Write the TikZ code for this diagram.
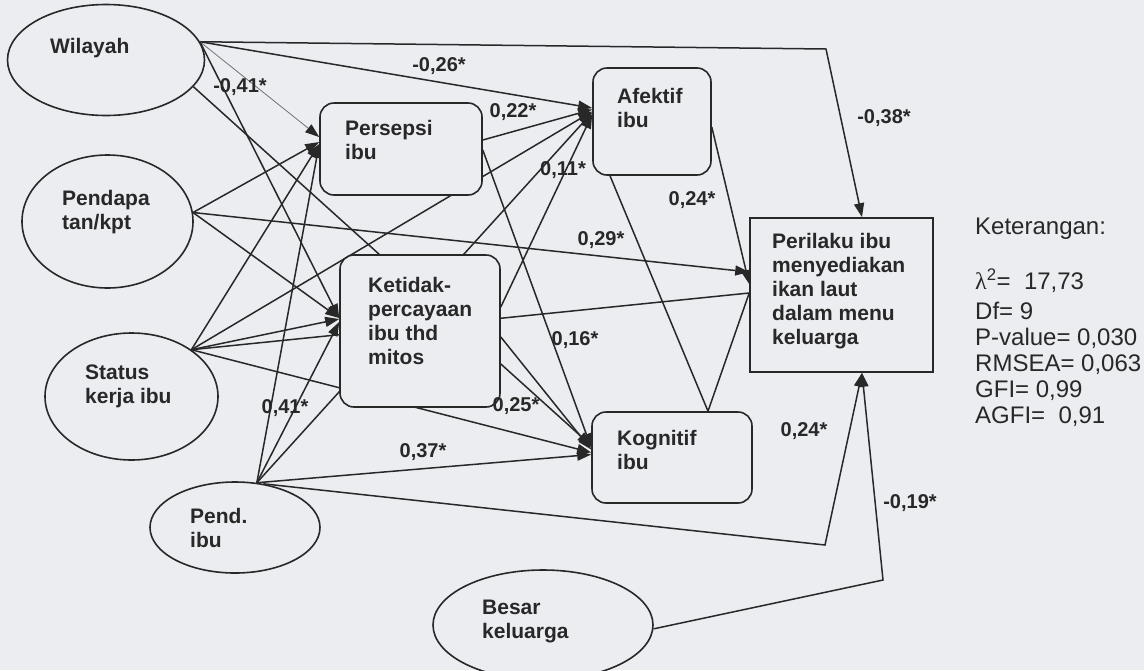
\documentclass[tikz,border=0pt]{standalone}
\usepackage{fontspec}
\setmainfont{Liberation Sans}
\newfontfamily\lamfont{Liberation Serif}
\usetikzlibrary{arrows.meta,shapes.geometric,calc}
\pgfdeclarelayer{bglayer}
\pgfdeclarelayer{edgelayer}
\pgfsetlayers{bglayer,edgelayer,main}
\definecolor{paper}{RGB}{236,237,241}
\definecolor{ink}{RGB}{40,40,40}
\begin{document}
\begin{tikzpicture}[x=1pt,y=-1pt,
  ellvar/.style={draw=ink, line width=1.6pt, fill=paper, ellipse, inner sep=0pt},
  rbox/.style={draw=ink, line width=1.6pt, fill=paper, rounded corners=14pt, inner sep=0pt, rectangle},
  sbox/.style={draw=ink, line width=1.6pt, fill=paper, inner sep=0pt, rectangle},
  lbl/.style={font=\bfseries\fontsize{21}{24}\selectfont, text=ink, align=left, anchor=north west, inner sep=0pt},
  coef/.style={font=\bfseries\fontsize{20}{24}\selectfont, text=ink, inner sep=0pt},
  arr/.style={draw=ink, line width=1.5pt, -{Triangle[length=14pt,width=10pt]}},
  lin/.style={draw=ink, line width=1.5pt},
  thinarr/.style={draw=ink!65, line width=0.8pt, -{Triangle[length=14pt,width=10pt,color=ink,fill=ink]}},
]
\useasboundingbox (0,0) rectangle (1144,670);
\begin{pgfonlayer}{bglayer}
  \fill[paper] (0,0) rectangle (1144,670);
\end{pgfonlayer}

% exogenous variables
\node[ellvar, minimum width=197pt, minimum height=111pt] (wil) at (106,60) {};
\node[ellvar, minimum width=171pt, minimum height=133pt] (pen) at (107.5,221.5) {};
\node[ellvar, minimum width=173pt, minimum height=127pt] (sta) at (131.5,396.5) {};
\node[ellvar, minimum width=170pt, minimum height=91pt] (pend) at (235,527.5) {};
\node[ellvar, minimum width=220pt, minimum height=110pt] (besar) at (543,625) {};

% mediators and outcome
\node[rbox, minimum width=162pt, minimum height=92pt] (pers) at (401,149) {};
\node[rbox, minimum width=160pt, minimum height=152pt] (ket) at (420,331) {};
\node[rbox, minimum width=118pt, minimum height=107pt] (afe) at (652,121.5) {};
\node[rbox, minimum width=160pt, minimum height=91pt] (kog) at (672,457.5) {};
\node[sbox, minimum width=183pt, minimum height=154pt] (peri) at (841.5,295) {};

% labels of nodes
\node[lbl] (wilT) at (50,38) {Wilayah};
\node[lbl] (penT) at (62,190) {Pendapa\\tan/kpt};
\node[lbl] (staT) at (85,365) {Status\\kerja ibu};
\node[lbl] (pendT) at (190,508) {Pend.\\ibu};
\node[lbl] (besarT) at (482,600) {Besar\\keluarga};
\node[lbl] (persT) at (345,120) {Persepsi\\ibu};
\node[lbl] (ketT) at (368,277) {Ketidak-\\percayaan\\ibu thd\\mitos};
\node[lbl] (afeT) at (617,88) {Afektif\\ibu};
\node[lbl] (kogT) at (617,430) {Kognitif\\ibu};
\node[lbl] (periT) at (772,233) {Perilaku ibu\\menyediakan\\ikan laut\\dalam menu\\keluarga};

% legend
\node[font=\fontsize{24}{26}\selectfont, text=ink, align=left, anchor=north west, inner sep=0pt] (leg) at (975,218)
  {Keterangan:\\[29pt]{\lamfont λ}\textsuperscript{2}=~~17,73\\[4pt]Df= 9\\P-value= 0,030\\RMSEA= 0,063\\GFI= 0,99\\AGFI=~~0,91};

% bend points
\coordinate (k1) at (826,49);
\coordinate (k2) at (825,545);
\coordinate (k3) at (883,580);

\begin{pgfonlayer}{edgelayer}
  % Wilayah
  \draw[arr] (wil.11) -- (k1) -- ([xshift=20.5pt]peri.north);
  \draw[arr] (wil.11) -- ([yshift=13.5pt]afe.west);
  \draw[thinarr] (wil.11) -- ([yshift=12pt]pers.west);
  \draw[arr] (wil.11) -- ([yshift=13pt]ket.west);
  \draw[arr] (wil.-17.5) -- ([yshift=12pt]kog.west);
  % Pendapatan
  \draw[arr] (pen.6) -- ([yshift=7pt]pers.west);
  \draw[arr] (pen.6) -- ([yshift=23pt]peri.west);
  \draw[arr] (pen.6) -- ([yshift=13pt]ket.west);
  % Status kerja
  \draw[arr] (sta.38) -- ([yshift=5pt]pers.west);
  \draw[arr] (sta.38) -- ([yshift=10pt]afe.west);
  \draw[arr] (sta.38) -- ([yshift=12pt]ket.west);
  \draw[lin] (sta.38) -- ([yshift=2pt]peri.west);
  \draw[arr] (sta.38) -- ([yshift=5pt]kog.west);
  % Pend. ibu
  \draw[arr] (pend.64) -- ([yshift=5pt]pers.west);
  \draw[arr] (pend.64) -- ([yshift=9pt]ket.west);
  \draw[arr] (pend.64) -- ([yshift=9pt]afe.west);
  \draw[arr] (pend.64) -- ([yshift=3pt]kog.west);
  \draw[arr] (pend.57) -- (k2) -- ([xshift=20.5pt]peri.south);
  % Besar keluarga
  \draw[arr] (besar.-2) -- (k3) -- ([xshift=20.5pt]peri.south);
  % Persepsi
  \draw[arr] ([yshift=9pt]pers.east) -- ([yshift=12pt]afe.west);
  \draw[arr] ([yshift=-1pt]pers.east) -- ([yshift=10pt]kog.west);
  % Ketidakpercayaan
  \draw[arr] ([yshift=24pt]ket.east) -- ([yshift=7pt]afe.west);
  \draw[arr] ([yshift=-6pt]ket.east) -- ([yshift=8pt]kog.west);
  % Afektif
  \draw[arr] ([yshift=-5.5pt]afe.east) -- ([yshift=11pt]peri.west);
  \draw[lin] ([xshift=-42pt]afe.south) -- ([xshift=36pt]kog.north);
  % Kognitif
  \draw[lin] ([xshift=36pt]kog.north) -- ([yshift=2pt]peri.west);
\end{pgfonlayer}

% coefficients
\node[coef] (c1) at (240,87) {-0,41*};
\node[coef] (c2) at (439,66) {-0,26*};
\node[coef] (c3) at (513,112) {0,22*};
\node[coef] (c4) at (563,170) {0,11*};
\node[coef] (c5) at (692,200) {0,24*};
\node[coef] (c6) at (601,240) {0,29*};
\node[coef] (c7) at (575,340) {0,16*};
\node[coef] (c8) at (516,406) {0,25*};
\node[coef] (c9) at (285,408) {0,41*};
\node[coef] (c10) at (423,452) {0,37*};
\node[coef] (c11) at (804,431) {0,24*};
\node[coef] (c12) at (910,503) {-0,19*};
\node[coef] (c13) at (884,118) {-0,38*};
\end{tikzpicture}
\end{document}
